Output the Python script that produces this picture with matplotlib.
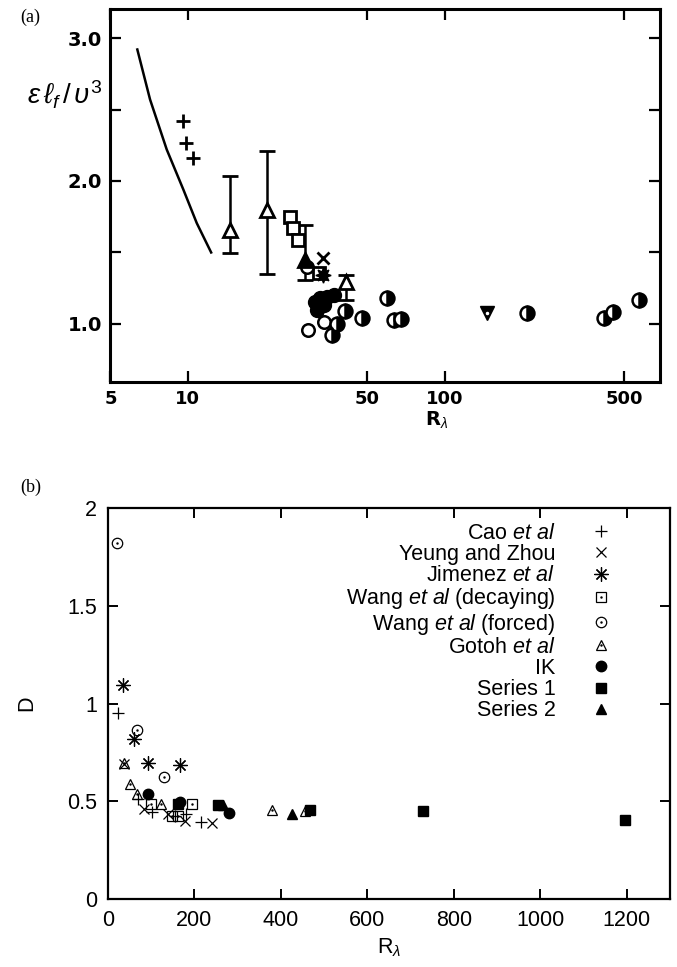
import matplotlib
matplotlib.use('Agg')
import matplotlib.pyplot as plt

plt.rcParams['mathtext.fontset'] = 'custom'
plt.rcParams['mathtext.rm'] = 'Liberation Sans'
plt.rcParams['mathtext.it'] = 'Liberation Sans:italic'

# ---- panel (a): eps*L/u^3 against R_lambda, log x ----
curve_r = [6.36, 7.13, 8.28, 9.61, 10.84, 12.33]
curve_c = [2.92, 2.57, 2.22, 1.94, 1.705, 1.50]

plus_r = [9.61, 9.85, 10.5]
plus_c = [2.417, 2.266, 2.161]

tri_r = [14.54, 20.3, 41.3]
tri_c = [1.658, 1.799, 1.29]
tri_lo = [1.495, 1.348, 1.168]
tri_hi = [2.037, 2.207, 1.343]

ftri_r = [28.6]
ftri_c = [1.45]
ftri_lo = [1.31]
ftri_hi = [1.69]

sq_r = [24.9, 25.7, 26.8, 32.3]
sq_c = [1.747, 1.67, 1.588, 1.355]

cross_r = [33.6]
cross_c = [1.464]

star_r = [33.5]
star_c = [1.343]

dot_r = [31.4, 32.8, 34.8, 36.97, 31.8, 33.8]
dot_c = [1.156, 1.18, 1.19, 1.203, 1.098, 1.133]

ring_r = [29.5, 33.8, 29.1]
ring_c = [0.96, 1.012, 1.40]

half_r = [41.1, 47.8, 59.9, 63.4, 67.5, 38.2, 36.4, 210, 416, 452, 573]
half_c = [1.093, 1.042, 1.18, 1.028, 1.033, 0.999, 0.92, 1.075, 1.04, 1.086, 1.168]

vtri_r = [146.7]
vtri_c = [1.075]

a_xticks = [5, 10, 50, 100, 500]
a_yticks = [1.0, 1.5, 2.0, 2.5, 3.0]
a_ylabels = ['1.0', '', '2.0', '', '3.0']

# ---- panel (b): D against R_lambda ----
cao_r = [24, 69, 102, 155, 181, 216]
cao_d = [0.952, 0.51, 0.445, 0.425, 0.433, 0.393]

yeung_r = [38, 84, 139, 179, 240]
yeung_d = [0.69, 0.462, 0.437, 0.40, 0.39]

jim_r = [35.6, 61, 92, 167]
jim_d = [1.094, 0.82, 0.698, 0.686]

wdec_r = [100, 147, 163, 195]
wdec_d = [0.488, 0.425, 0.425, 0.485]

wfor_r = [20, 67, 129.5]
wfor_d = [1.82, 0.866, 0.622]

gotoh_r = [38, 52, 67, 123, 379, 455]
gotoh_d = [0.694, 0.588, 0.536, 0.488, 0.457, 0.45]

ik_r = [92, 167, 281]
ik_d = [0.536, 0.497, 0.44]

s1_r = [162, 255, 468, 728, 1195]
s1_d = [0.488, 0.479, 0.453, 0.45, 0.405]

s2_r = [265, 426]
s2_d = [0.48, 0.437]

b_xticks = [0, 200, 400, 600, 800, 1000, 1200]
b_yticks = [0, 0.5, 1, 1.5, 2]
b_ylabels = ['0', '0.5', '1', '1.5', '2']


def draw_panel_a(ax):
    bold = dict(fontfamily='DejaVu Sans', fontweight='bold')
    ax.plot(curve_r, curve_c, color='k', lw=1.8)
    ax.plot(plus_r, plus_c, '+', color='k', ms=10, mew=2)
    ax.errorbar(tri_r, tri_c,
                yerr=[[c - lo for c, lo in zip(tri_c, tri_lo)],
                      [hi - c for c, hi in zip(tri_c, tri_hi)]],
                fmt='^', ms=10, mfc='white', mec='k', mew=2,
                ecolor='k', elinewidth=1.8, capsize=6, capthick=1.8)
    ax.errorbar(ftri_r, ftri_c,
                yerr=[[c - lo for c, lo in zip(ftri_c, ftri_lo)],
                      [hi - c for c, hi in zip(ftri_c, ftri_hi)]],
                fmt='^', ms=10, mfc='k', mec='k', mew=2,
                ecolor='k', elinewidth=1.8, capsize=6, capthick=1.8)
    ax.plot(sq_r, sq_c, 's', ms=8, mfc='white', mec='k', mew=2)
    ax.plot(cross_r, cross_c, 'x', color='k', ms=8, mew=2)
    ax.plot(star_r, star_c, marker=(8, 1, 0), ls='none', color='k', ms=11)
    ax.plot(ring_r, ring_c, 'o', ms=9, mfc='white', mec='k', mew=1.8)
    ax.plot(dot_r, dot_c, 'o', ms=10, color='k')
    ax.plot(half_r, half_c, 'o', ls='none', ms=10, fillstyle='right',
            mfc='k', markerfacecoloralt='white', mec='k', mew=1.8)
    ax.plot(vtri_r, vtri_c, 'v', ms=10, mfc='k', mec='k')
    ax.plot(vtri_r, vtri_c, '.', ms=3, color='white')

    ax.set_xscale('log')
    ax.set_xlim(5, 690)
    ax.set_ylim(0.594, 3.2)
    ax.set_xticks(a_xticks)
    ax.set_xticklabels([str(t) for t in a_xticks], **bold, fontsize=13)
    ax.xaxis.set_minor_locator(plt.NullLocator())
    ax.set_yticks(a_yticks)
    ax.set_yticklabels(a_ylabels, **bold, fontsize=14)
    ax.tick_params(direction='in', length=8, width=1.6, top=True, right=True, pad=6)
    for spine in ax.spines.values():
        spine.set_linewidth(2.2)
    ax.text(0.594, -0.1, r'R$_\lambda$', transform=ax.transAxes,
            ha='center', va='center', fontsize=14, **bold)


def draw_panel_b(ax):
    thin = dict(ls='none', color='k')
    h_cao, = ax.plot(cao_r, cao_d, '+', ms=9, mew=0.9, **thin)
    h_yeung, = ax.plot(yeung_r, yeung_d, 'x', ms=7, mew=0.9, **thin)
    h_jim, = ax.plot(jim_r, jim_d, marker=(4, 2, 0), ms=10, mew=0.9, **thin)
    h_jim2, = ax.plot(jim_r, jim_d, marker=(4, 2, 45), ms=10, mew=0.9, **thin)
    h_wdec, = ax.plot(wdec_r, wdec_d, 's', ms=7, mfc='none', mec='k', mew=0.9, ls='none')
    h_wdec2, = ax.plot(wdec_r, wdec_d, '.', ms=1.5, **thin)
    h_wfor, = ax.plot(wfor_r, wfor_d, 'o', ms=7.5, mfc='none', mec='k', mew=0.9, ls='none')
    h_wfor2, = ax.plot(wfor_r, wfor_d, '.', ms=1.5, **thin)
    h_got, = ax.plot(gotoh_r, gotoh_d, '^', ms=7.5, mfc='none', mec='k', mew=0.9, ls='none')
    h_got2, = ax.plot(gotoh_r, gotoh_d, '.', ms=1.5, **thin)
    h_ik, = ax.plot(ik_r, ik_d, 'o', ms=7.5, **thin)
    h_s1, = ax.plot(s1_r, s1_d, 's', ms=7, **thin)
    h_s2, = ax.plot(s2_r, s2_d, '^', ms=7.5, **thin)

    ax.set_xlim(0, 1300)
    ax.set_ylim(0, 2)
    ax.set_xticks(b_xticks)
    ax.set_yticks(b_yticks)
    ax.set_yticklabels(b_ylabels)
    ax.tick_params(direction='in', length=7, width=1.4, top=True, right=True,
                   labelsize=15.5, pad=8)
    for spine in ax.spines.values():
        spine.set_linewidth(1.6)
    ax.set_xlabel(r'R$_\lambda$', fontsize=15.5, labelpad=4)
    ax.set_ylabel('D', fontsize=15.5)
    ax.yaxis.set_label_coords(-0.125, 0.5)

    handles = [h_cao, h_yeung, (h_jim, h_jim2), (h_wdec, h_wdec2),
               (h_wfor, h_wfor2), (h_got, h_got2), h_ik, h_s1, h_s2]
    labels = [r'Cao $\mathit{et\ al}$', 'Yeung and Zhou', r'Jimenez $\mathit{et\ al}$',
              r'Wang $\mathit{et\ al}$ (decaying)', r'Wang $\mathit{et\ al}$ (forced)',
              r'Gotoh $\mathit{et\ al}$', 'IK', 'Series 1', 'Series 2']
    ax.legend(handles, labels, loc='upper right', bbox_to_anchor=(0.923, 0.99),
              frameon=False, markerfirst=False, fontsize=15.5, borderpad=0,
              handlelength=1.4, handletextpad=1.4, labelspacing=0.01)


fig = plt.figure(figsize=(6.77, 9.67), dpi=100)
plt.rcParams['font.family'] = ['Liberation Sans', 'DejaVu Sans']
ax_a = fig.add_axes([0.1632, 0.605, 0.8117, 0.3852])
ax_b = fig.add_axes([0.1595, 0.0703, 0.830, 0.4043])
draw_panel_a(ax_a)
draw_panel_b(ax_b)

serif = dict(fontfamily='Liberation Serif', fontsize=13)
fig.text(20 / 677, 1 - 17 / 967, '(a)', ha='left', va='center', **serif)
fig.text(20 / 677, 1 - 487 / 967, '(b)', ha='left', va='center', **serif)
fig.text(27 / 677, 1 - 95 / 967, r'$\epsilon\,\ell_f\,/\,\upsilon^3$',
         ha='left', va='center', fontsize=20)

fig.savefig('out.png', dpi=100)
